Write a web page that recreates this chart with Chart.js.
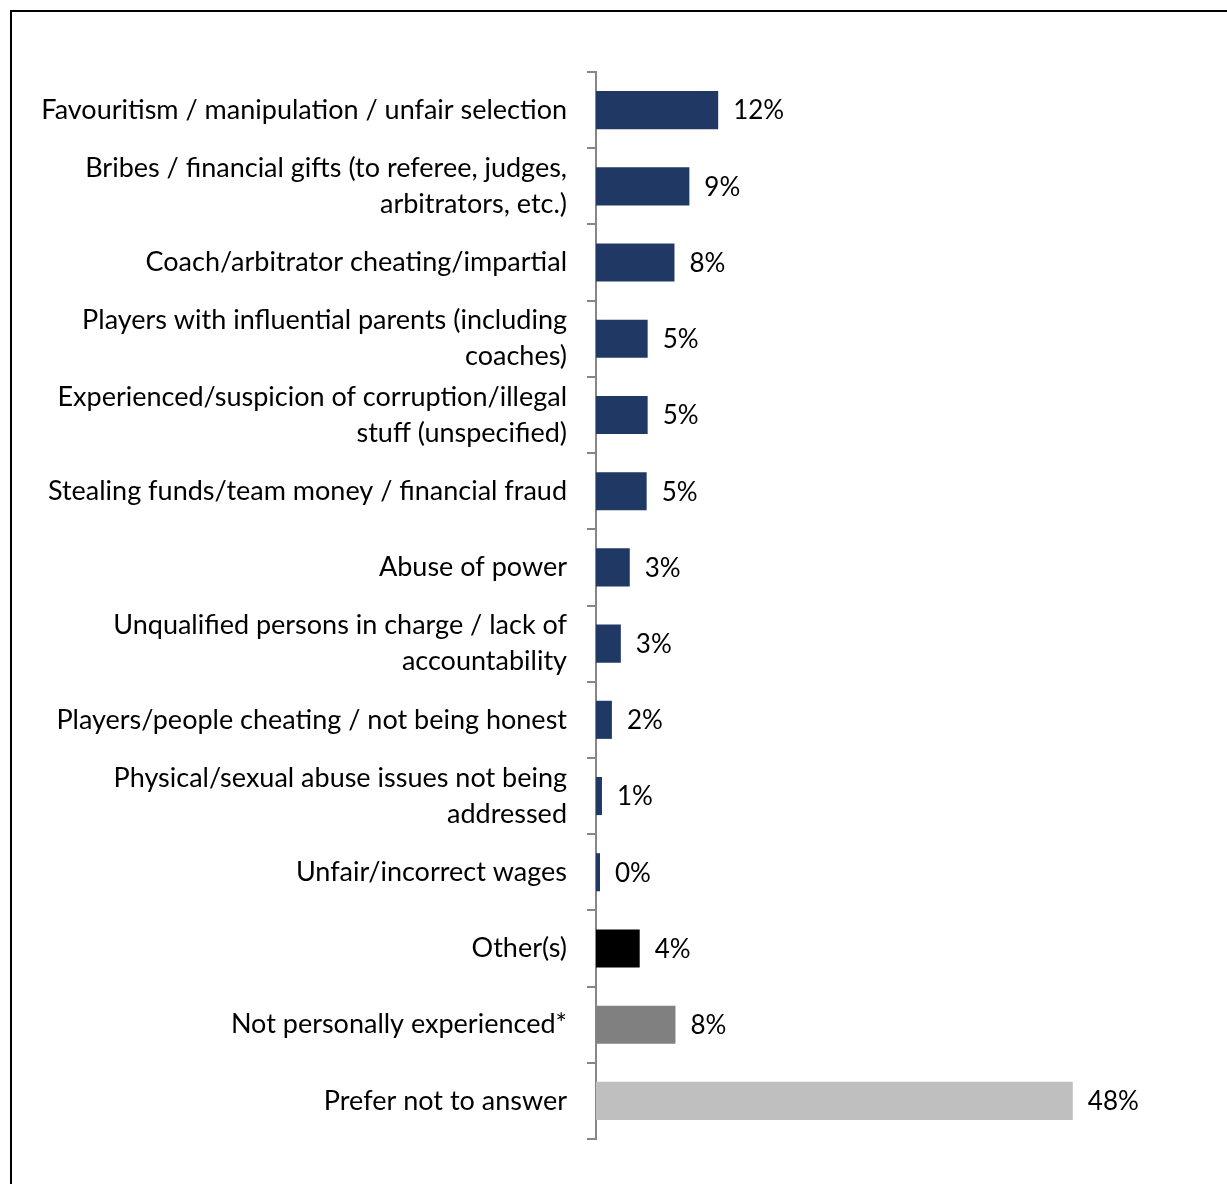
<!DOCTYPE html>
<html>
<head>
<meta charset="utf-8">
<script src="https://cdn.jsdelivr.net/npm/chart.js@4"></script>
<style>
  html, body { margin: 0; padding: 0; background: #fff; overflow: hidden; }
  #frame {
    position: absolute; left: 10px; top: 10px;
    width: 1400px; height: 1400px;
    border-left: 2px solid #000; border-top: 2px solid #000;
  }
  #wrap { position: absolute; left: 0; top: 0; width: 1227px; height: 1184px; }
</style>
</head>
<body>
<div id="frame"></div>
<div id="wrap"><canvas id="chart" width="1227" height="1184"></canvas></div>
<script>
// categories (top to bottom) and shares in %
const categories = [
  "Favouritism / manipulation / unfair selection",
  ["Bribes / financial gifts (to referee, judges,", "arbitrators, etc.)"],
  "Coach/arbitrator cheating/impartial",
  ["Players with influential parents (including", "coaches)"],
  ["Experienced/suspicion of corruption/illegal", "stuff (unspecified)"],
  "Stealing funds/team money / financial fraud",
  "Abuse of power",
  ["Unqualified persons in charge / lack of", "accountability"],
  "Players/people cheating / not being honest",
  ["Physical/sexual abuse issues not being", "addressed"],
  "Unfair/incorrect wages",
  "Other(s)",
  "Not personally experienced*",
  "Prefer not to answer"
];
const shares = [12.3, 9.4, 7.9, 5.2, 5.2, 5.1, 3.4, 2.5, 1.6, 0.6, 0.4, 4.4, 8.0, 48.0];
const barColors = [
  "#203864", "#203864", "#203864", "#203864", "#203864", "#203864", "#203864",
  "#203864", "#203864", "#203864", "#203864", "#000000", "#808080", "#BFBFBF"
];

const FONT = "Lato, 'Open Sans', sans-serif";

// value labels at the end of each bar
const valueLabels = {
  id: "valueLabels",
  afterDatasetsDraw(chart) {
    const { ctx } = chart;
    const meta = chart.getDatasetMeta(0);
    ctx.save();
    ctx.font = "26px " + FONT;
    ctx.fillStyle = "#000";
    ctx.textAlign = "left";
    ctx.textBaseline = "middle";
    meta.data.forEach((bar, i) => {
      ctx.fillText(Math.round(shares[i]) + "%", bar.x + 15, bar.y + 1);
    });
    ctx.restore();
  }
};

const ctx = document.getElementById("chart").getContext("2d");
new Chart(ctx, {
  type: "bar",
  data: {
    labels: categories,
    datasets: [{
      data: shares,
      backgroundColor: barColors,
      borderWidth: 0,
      barPercentage: 0.5,
      categoryPercentage: 1.0
    }]
  },
  options: {
    indexAxis: "y",
    responsive: false,
    animation: false,
    layout: { padding: { left: 0, right: 35, top: 72, bottom: 45 } },
    plugins: { legend: { display: false }, tooltip: { enabled: false } },
    scales: {
      x: {
        display: false,
        min: 0,
        max: 60
      },
      y: {
        afterFit: (scale) => { scale.width = 596; },
        border: { display: true, color: "#868686", width: 2 },
        grid: {
          display: true,
          drawOnChartArea: false,
          drawTicks: true,
          tickLength: 9,
          color: "#868686",
          lineWidth: 2
        },
        ticks: {
          padding: 20,
          color: "#000",
          font: { family: FONT, size: 27, lineHeight: 1.333 }
        }
      }
    }
  },
  plugins: [valueLabels]
});
</script>
</body>
</html>
